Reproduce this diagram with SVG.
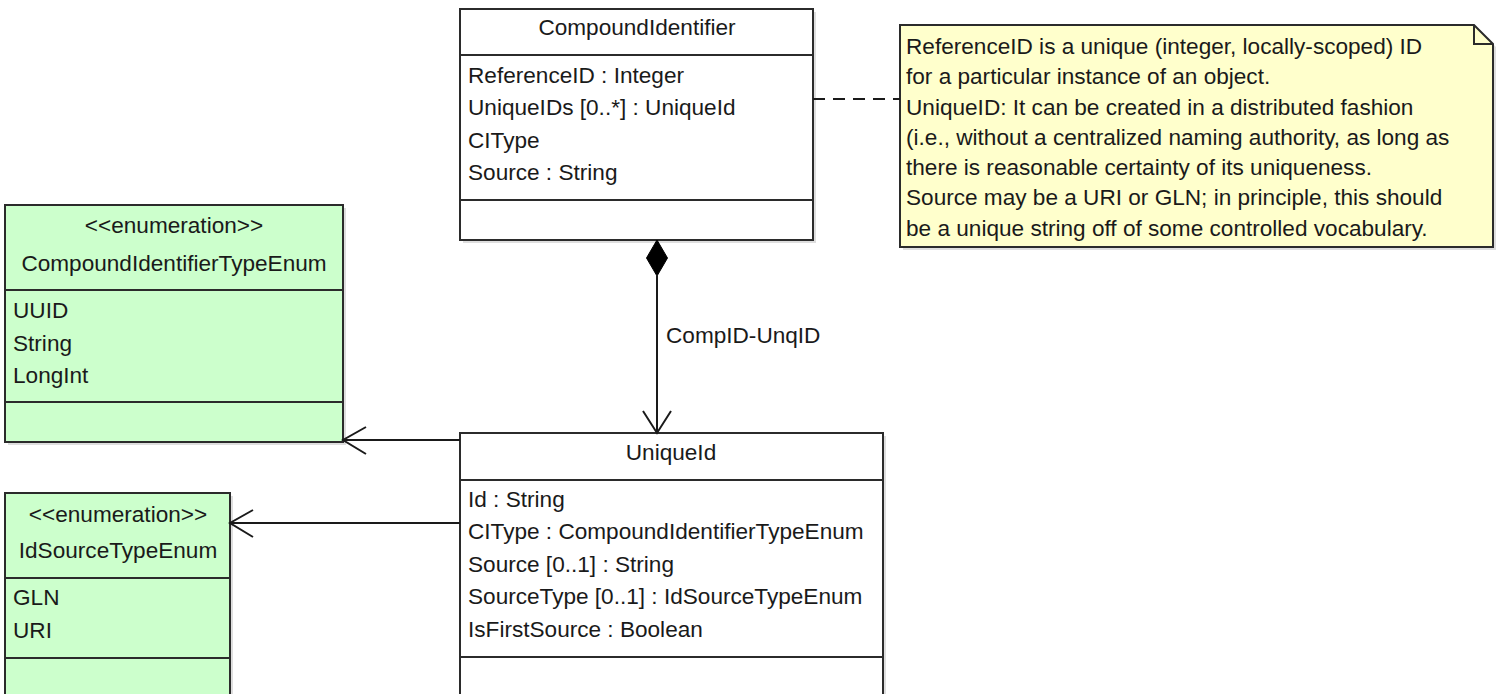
<svg xmlns="http://www.w3.org/2000/svg" width="1502" height="694" viewBox="0 0 1502 694">
<style>
  text { font-family: "Liberation Sans", Arial, sans-serif; font-size: 22.6px; fill: #1a1a1a; }
  .c { text-anchor: middle; }
  .box { stroke: #2b2b2b; stroke-width: 2; }
  .cls { fill: #ffffff; }
  .enum { fill: #ccffcc; }
  .note { fill: #ffffcc; }
  .sh { fill: #c8c8c8; opacity: 0.6; }
  .sep { stroke: #2b2b2b; stroke-width: 2; fill: none; }
  .conn { stroke: #1a1a1a; stroke-width: 2; fill: none; }
</style>
<rect width="1502" height="694" fill="#ffffff"/>

<g id="CompoundIdentifier">
  <rect class="sh" x="463" y="12" width="353" height="231"/>
  <rect class="box cls" x="460" y="9" width="353" height="231"/>
  <line class="sep" x1="460" y1="55" x2="813" y2="55"/>
  <line class="sep" x1="460" y1="200" x2="813" y2="200"/>
  <text class="c" x="637" y="35">CompoundIdentifier</text>
  <text x="468" y="83">ReferenceID : Integer</text>
  <text x="468" y="115">UniqueIDs [0..*] : UniqueId</text>
  <text x="468" y="148">CIType</text>
  <text x="468" y="180">Source : String</text>
</g>

<g id="Note">
  <path class="sh" d="M903,28 H1477 L1496,47 V250 H903 Z"/>
  <path class="box note" d="M900,25 H1474 L1493,44 V247 H900 Z"/>
  <path class="sep" d="M1474,25 V44 H1493" stroke-width="1.5"/>
  <text x="906" y="54">ReferenceID is a unique (integer, locally-scoped) ID</text>
  <text x="906" y="84">for a particular instance of an object.</text>
  <text x="906" y="115">UniqueID: It can be created in a distributed fashion</text>
  <text x="906" y="145">(i.e., without a centralized naming authority, as long as</text>
  <text x="906" y="175">there is reasonable certainty of its uniqueness.</text>
  <text x="906" y="205">Source may be a URI or GLN; in principle, this should</text>
  <text x="906" y="236">be a unique string off of some controlled vocabulary.</text>
</g>

<g id="CompoundIdentifierTypeEnum">
  <rect class="sh" x="8" y="208" width="338" height="237"/>
  <rect class="box enum" x="5" y="205" width="338" height="237"/>
  <line class="sep" x1="5" y1="290" x2="343" y2="290"/>
  <line class="sep" x1="5" y1="402" x2="343" y2="402"/>
  <text class="c" x="174" y="233">&lt;&lt;enumeration&gt;&gt;</text>
  <text class="c" x="174" y="271">CompoundIdentifierTypeEnum</text>
  <text x="13" y="318">UUID</text>
  <text x="13" y="351">String</text>
  <text x="13" y="383">LongInt</text>
</g>

<g id="IdSourceTypeEnum">
  <rect class="sh" x="8" y="496" width="225" height="220"/>
  <rect class="box enum" x="5" y="493" width="225" height="220"/>
  <line class="sep" x1="5" y1="578" x2="230" y2="578"/>
  <line class="sep" x1="5" y1="658" x2="230" y2="658"/>
  <text class="c" x="118" y="522">&lt;&lt;enumeration&gt;&gt;</text>
  <text class="c" x="118" y="558">IdSourceTypeEnum</text>
  <text x="13" y="605">GLN</text>
  <text x="13" y="638">URI</text>
</g>

<g id="UniqueId">
  <rect class="sh" x="463" y="436" width="423" height="280"/>
  <rect class="box cls" x="460" y="433" width="423" height="280"/>
  <line class="sep" x1="460" y1="480" x2="883" y2="480"/>
  <line class="sep" x1="460" y1="657" x2="883" y2="657"/>
  <text class="c" x="671" y="460">UniqueId</text>
  <text x="468" y="507">Id : String</text>
  <text x="468" y="539">CIType : CompoundIdentifierTypeEnum</text>
  <text x="468" y="572">Source [0..1] : String</text>
  <text x="468" y="604">SourceType [0..1] : IdSourceTypeEnum</text>
  <text x="468" y="637">IsFirstSource : Boolean</text>
</g>

<g id="connectors">
  <line class="conn" x1="813" y1="99" x2="900" y2="99" stroke-dasharray="12,8"/>
  <line class="conn" x1="657" y1="276" x2="657" y2="433"/>
  <polygon points="657,240 646.5,258 657,276 667.5,258" fill="#000000" stroke="#000000" stroke-width="1"/>
  <polyline class="conn" points="643,411 657,433 671,411"/>
  <text x="666" y="343">CompID-UnqID</text>
  <line class="conn" x1="460" y1="440" x2="343" y2="440"/>
  <polyline class="conn" points="366,427 343,440 366,454"/>
  <line class="conn" x1="460" y1="523" x2="230" y2="523"/>
  <polyline class="conn" points="253,510 230,523 253,537"/>
</g>
</svg>
